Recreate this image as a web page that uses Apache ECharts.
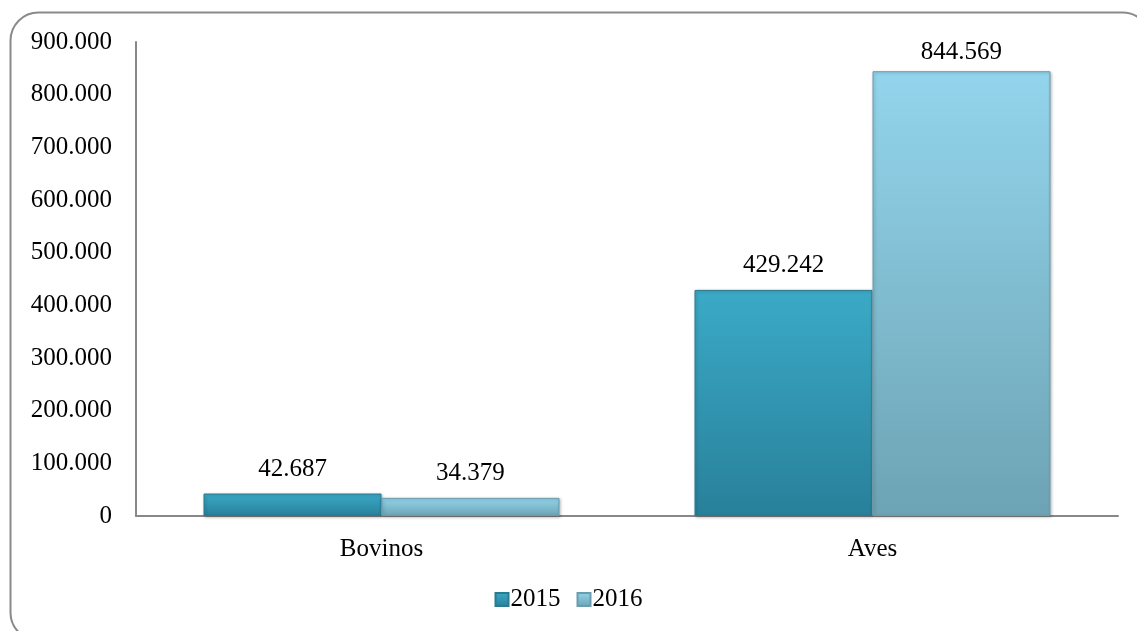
<!DOCTYPE html>
<html>
<head>
<meta charset="utf-8">
<script src="https://cdn.jsdelivr.net/npm/echarts@6/dist/echarts.min.js"></script>
<style>
html,body{margin:0;padding:0;background:#fff;}
#chart{width:1137px;height:631px;}
</style>
</head>
<body>
<div id="chart"></div>
<script>
var categories = ['Bovinos', 'Aves'];
var seriesNames = ['2015', '2016'];
var values2015 = [42687, 429242];
var values2016 = [34379, 844569];
var yTicks = [0, 100000, 200000, 300000, 400000, 500000, 600000, 700000, 800000, 900000];

function fmt(v) {
  return String(Math.round(v)).replace(/\B(?=(\d{3})+(?!\d))/g, '.');
}

var font = '"Liberation Serif", "Times New Roman", serif';

var grad2015 = new echarts.graphic.LinearGradient(0, 0, 0, 1, [
  {offset: 0, color: '#3BAAC7'},
  {offset: 1, color: '#28809A'}
]);
var grad2016 = new echarts.graphic.LinearGradient(0, 0, 0, 1, [
  {offset: 0, color: '#93D5EC'},
  {offset: 1, color: '#6DA3B4'}
]);

var yMax = yTicks[yTicks.length - 1];
function toData(arr) {
  return arr.map(function (v) {
    // labels near the top of the plot sit closer to their bar
    return v > yMax * 0.9 ? {value: v, label: {distance: 6}} : v;
  });
}

var labelCfg = {show: true, position: 'top', distance: 12, fontFamily: font, fontSize: 25, color: '#000',
  formatter: function (p) { return fmt(p.value); }};

var chart = echarts.init(document.getElementById('chart'), null, {renderer: 'canvas'});
chart.setOption({
  animation: false,
  backgroundColor: '#fff',
  graphic: [{
    type: 'rect',
    z: -10,
    shape: {x: 10.5, y: 12.5, width: 1140, height: 628, r: 28},
    style: {fill: 'none', stroke: '#8a8a8a', lineWidth: 2}
  }],
  grid: {left: 136, right: 19, top: 42, bottom: 115, containLabel: false},
  legend: {
    bottom: 14,
    left: 'center',
    itemWidth: 13,
    itemHeight: 13,
    itemGap: 16,
    icon: 'rect',
    textStyle: {fontFamily: font, fontSize: 25, color: '#000', padding: [0, 0, 0, -3]},
    data: seriesNames
  },
  xAxis: {
    type: 'category',
    data: categories,
    axisLine: {lineStyle: {color: '#888', width: 2}},
    axisTick: {show: false},
    axisLabel: {fontFamily: font, fontSize: 25, color: '#000', margin: 21}
  },
  yAxis: {
    type: 'value',
    min: yTicks[0],
    max: yMax,
    interval: yTicks[1] - yTicks[0],
    axisLine: {show: true, lineStyle: {color: '#888', width: 2}},
    axisTick: {show: false},
    splitLine: {show: false},
    axisLabel: {fontFamily: font, fontSize: 25, color: '#000', margin: 24, formatter: fmt}
  },
  series: [{
    name: seriesNames[0],
    type: 'bar',
    data: toData(values2015),
    barGap: '0%',
    barCategoryGap: '27.5%',
    itemStyle: {color: grad2015, borderColor: '#2A7A90', borderWidth: 1,
      shadowColor: 'rgba(0,0,0,0.25)', shadowBlur: 3, shadowOffsetX: 1, shadowOffsetY: 1},
    label: labelCfg
  }, {
    name: seriesNames[1],
    type: 'bar',
    data: toData(values2016),
    barGap: '0%',
    barCategoryGap: '27.5%',
    itemStyle: {color: grad2016, borderColor: '#6A9CAD', borderWidth: 1,
      shadowColor: 'rgba(0,0,0,0.25)', shadowBlur: 3, shadowOffsetX: 1, shadowOffsetY: 1},
    label: labelCfg
  }]
});
</script>
</body>
</html>
